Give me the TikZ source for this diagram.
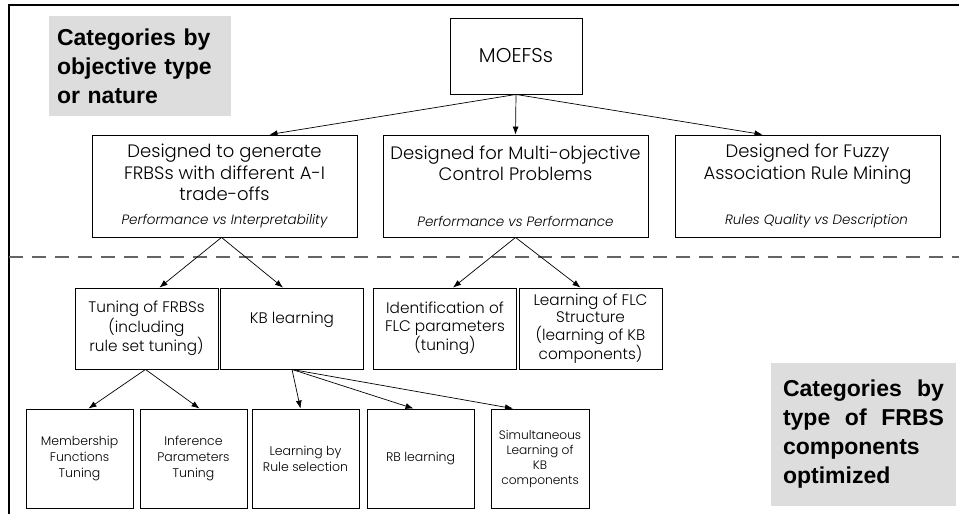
\documentclass[tikz,border=0pt]{standalone}
\usepackage{fontspec}
\IfFontExistsTF{Poppins Light}{\setmainfont{Poppins Light}}{\setmainfont{Poppins}}
\newfontfamily\catfont{Liberation Sans}
\usetikzlibrary{arrows.meta, positioning}
\tikzstyle{cat} = [rectangle, fill=colorCat, text=black, font=\catfont\bfseries\fontsize{23}{29}\selectfont, inner sep=0pt]
\tikzstyle{root} = [rectangle, draw=black, line width=0.9pt, minimum width=132pt, minimum height=76pt, font=\fontsize{20}{24}\selectfont]
\tikzstyle{objtype} = [rectangle, draw=black, line width=0.9pt, minimum width=265pt, minimum height=102pt, align=center, font=\fontsize{18}{21.5}\selectfont, inner sep=0pt]
\tikzstyle{comp} = [rectangle, draw=black, line width=0.9pt, minimum width=143pt, minimum height=81pt, align=center, font=\fontsize{15.3}{17.5}\selectfont, inner sep=0pt]
\tikzstyle{method} = [rectangle, draw=black, line width=0.9pt, minimum width=107pt, minimum height=99pt, align=center, font=\fontsize{12.5}{16}\selectfont, inner sep=0pt]
\tikzstyle{arrow} = [-{Latex[length=8pt, width=6pt]}, line width=0.7pt]
\newcommand{\tradeoff}[1]{{\fontsize{13.5}{19}\selectfont\itshape #1}}
\definecolor{colorCat}{RGB}{221, 221, 221}
\definecolor{colorSep}{RGB}{100, 100, 100}

\begin{document}
\begin{tikzpicture}[x=1pt, y=-1pt]

	\useasboundingbox (0,0) rectangle (959,514);

	% frame
	\draw[line width=1.3pt] (959,5) -| (9,514);

	% category labels
	\node (catObj)[cat, minimum width=182pt, minimum height=100pt, text width=166pt, align=left] at (140,66) {Categories by\\objective type\\or nature};
	\node (catComp)[cat, minimum width=185pt, minimum height=143pt, text width=161pt, align=justify] at (863.5,434.5) {Categories by\linebreak type of FRBS\linebreak components\\optimized};

	% top
	\node (moefs)[root] at (516,56) {MOEFSs};

	% objective type or nature
	\node (objAI)[objtype] at (224.5,186) {Designed to generate\\FRBSs with different A-I\\trade-offs\\[2pt]\tradeoff{Performance vs Interpretability}};
	\node (objCtrl)[objtype] at (515.5,186) {Designed for Multi-objective\\Control Problems\\[24pt]\tradeoff{Performance vs Performance}};
	\node (objFARM)[objtype] at (807.5,186) {Designed for Fuzzy\\Association Rule Mining\\[24pt]\hspace*{18pt}\tradeoff{Rules Quality vs Description}};

	% dashed line
	\coordinate (sepL) at (9,257);
	\coordinate (sepR) at (959,257);
	\draw[colorSep, line width=1.6pt, dash pattern=on 14pt off 9pt] (sepL) -- (sepR);

	% type of FRBS components
	\node (tuning)[comp] at (146.5,328.5) {Tuning of FRBSs\\(including\\rule set tuning)};
	\node (kbLearn)[comp, text depth=22pt] at (292,328.5) {KB learning};
	\node (flcIdent)[comp] at (445,328.5) {Identification of\\FLC parameters\\(tuning)};
	\node (flcStruct)[comp] at (590.5,328.5) {Learning of FLC\\Structure\\(learning of KB\\components)};

	\node (mfTuning)[method] at (79.5,458.5) {Membership\\Functions\\Tuning};
	\node (ipTuning)[method] at (193.5,458.5) {Inference\\Parameters\\Tuning};
	\node (ruleSel)[method] at (305.5,458.5) {Learning by\\Rule selection};
	\node (rbLearn)[method] at (420.5,458.5) {RB learning};
	\node (kbSimul)[method, minimum width=98pt, font=\fontsize{12.2}{15}\selectfont] at (540,458.5) {Simultaneous\\Learning of\\KB\\components};

	% lines and arrows
	\draw[arrow](moefs.south) -- ([xshift=45pt]objAI.north);
	\draw[arrow](moefs.south) -- (objCtrl.north);
	\draw[arrow](moefs.south) -- ([xshift=-45pt]objFARM.north);

	\draw[arrow]([xshift=-3pt]objAI.south) -- ([xshift=13pt]tuning.north);
	\draw[arrow]([xshift=-3pt]objAI.south) -- ([xshift=-9pt]kbLearn.north);
	\draw[arrow](objCtrl.south) -- ([xshift=8pt]flcIdent.north);
	\draw[arrow](objCtrl.south) -- ([xshift=-10pt]flcStruct.north);

	\draw[arrow]([xshift=-1pt]tuning.south) -- ([xshift=9pt]mfTuning.north);
	\draw[arrow]([xshift=-1pt]tuning.south) -- ([xshift=6pt]ipTuning.north);
	\draw[arrow](kbLearn.south) -- ([xshift=-5pt]ruleSel.north);
	\draw[arrow](kbLearn.south) -- ([xshift=-7pt]rbLearn.north);
	\draw[arrow](kbLearn.south) -- ([xshift=-27pt]kbSimul.north);

\end{tikzpicture}
\end{document}
